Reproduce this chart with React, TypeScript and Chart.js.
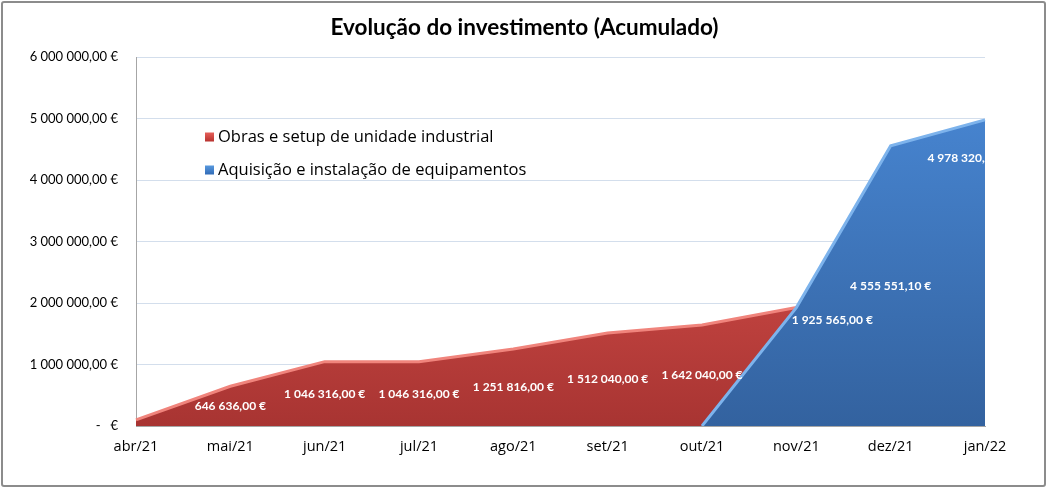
import React, { useEffect, useRef } from "react";
import { Chart, registerables } from "chart.js";

Chart.register(...registerables);

const months = ["abr/21", "mai/21", "jun/21", "jul/21", "ago/21", "set/21", "out/21", "nov/21", "dez/21", "jan/22"];

const obras = [100000, 646636, 1046316, 1046316, 1251816, 1512040, 1642040, 1925565, null, null];

const equipamentos = [null, null, null, null, null, null, 0, 1925565, 4555551.1, 4978320];

const obrasLabelIdx = [1, 2, 3, 4, 5, 6];
const equipLabelIdx = [7, 8, 9];

const seriesNames = ["Obras e setup de unidade industrial", "Aquisição e instalação de equipamentos"];

const FONT = "Lato, 'Open Sans', sans-serif";
const FONT2 = "'Open Sans', sans-serif";

const euro = (v: number) => {
  if (v === 0) return "-   €";
  const [int, dec] = v.toFixed(2).split(".");
  return int.replace(/\B(?=(\d{3})+(?!\d))/g, " ") + "," + dec + " €";
};

const grad = (chart: Chart, top: string, bottom: string) => {
  const area = chart.chartArea;
  if (!area) return top;
  const g = chart.ctx.createLinearGradient(0, area.top, 0, area.bottom);
  g.addColorStop(0, top);
  g.addColorStop(1, bottom);
  return g;
};

const labelsPlugin = {
  id: "areaLabels",
  afterDatasetsDraw(chart: Chart) {
    const { ctx, chartArea } = chart;
    const base = chart.scales.y.getPixelForValue(0);
    ctx.save();
    ctx.beginPath();
    ctx.rect(chartArea.left, chartArea.top - 20, chartArea.right - chartArea.left, chartArea.bottom - chartArea.top + 20);
    ctx.clip();
    ctx.font = "bold 12px " + FONT;
    ctx.fillStyle = "#ffffff";
    ctx.textAlign = "center";
    ctx.textBaseline = "middle";
    const draw = (dsIndex: number, idx: number[], shift: Record<number, [number, number]>) => {
      const meta = chart.getDatasetMeta(dsIndex);
      const data = chart.data.datasets[dsIndex].data as (number | null)[];
      idx.forEach((i) => {
        const pt = meta.data[i];
        const v = data[i];
        if (!pt || v == null) return;
        let x = pt.x;
        let y = (pt.y + base) / 2;
        if (shift[i]) {
          x = pt.x + shift[i][0];
          y = pt.y + shift[i][1];
        }
        ctx.fillText(euro(v), x, y);
      });
    };
    draw(1, obrasLabelIdx, {});
    draw(0, equipLabelIdx, { 7: [36, 13], 9: [-17, 38] });
    ctx.restore();
  },
  afterDraw(chart: Chart) {
    const { ctx } = chart;
    const colors = [
      ["#e8625c", "#b52f2c"],
      ["#5a9be0", "#2f69b5"],
    ];
    ctx.save();
    ctx.font = "16.5px " + FONT2;
    ctx.textBaseline = "middle";
    seriesNames.forEach((name, i) => {
      const y = 137 + i * 33;
      const g = ctx.createLinearGradient(0, y - 5, 0, y + 5);
      g.addColorStop(0, colors[i][0]);
      g.addColorStop(1, colors[i][1]);
      ctx.fillStyle = g;
      ctx.fillRect(205, y - 4.5, 9, 9);
      ctx.fillStyle = "#000";
      ctx.fillText(name, 218, y);
    });
    ctx.restore();
  },
};

const App = () => {
  const canvasRef = useRef<HTMLCanvasElement>(null);
  const chartRef = useRef<Chart | null>(null);

  useEffect(() => {
    document.body.style.margin = "0";
    if (!canvasRef.current) return;
    chartRef.current?.destroy();

    chartRef.current = new Chart(canvasRef.current, {
      type: "line",
      data: {
        labels: months,
        datasets: [
          {
            label: seriesNames[1],
            data: equipamentos,
            fill: "origin",
            borderColor: "#7db3ec",
            borderWidth: 3,
            backgroundColor: (c: any) => grad(c.chart, "#4a8ad8", "#33629f"),
            pointRadius: 0,
            tension: 0,
          },
          {
            label: seriesNames[0],
            data: obras,
            fill: "origin",
            borderColor: "#f0847c",
            borderWidth: 3,
            backgroundColor: (c: any) => grad(c.chart, "#ee5e58", "#a83432"),
            pointRadius: 0,
            tension: 0,
          },
        ],
      },
      options: {
        animation: false,
        responsive: false,
        layout: { padding: { top: 57, right: 64, left: 0, bottom: 0 } },
        plugins: {
          legend: { display: false },
          tooltip: { enabled: false },
          title: { display: false },
        },
        scales: {
          x: {
            offset: false,
            grid: { display: false, drawTicks: false },
            border: { color: "#a6a6a6", width: 1 },
            ticks: { color: "#000", font: { family: FONT2, size: 14.5 }, padding: 12, maxRotation: 0, autoSkip: false },
            afterFit: (s: any) => {
              s.height = 64;
            },
          },
          y: {
            min: 0,
            max: 6000000,
            grid: { color: "#d3deec", drawTicks: false },
            border: { color: "#a6a6a6", width: 1 },
            ticks: {
              stepSize: 1000000,
              color: "#000",
              font: { family: FONT, size: 13 },
              padding: 18,
              callback: (v: any) => euro(Number(v)),
            },
            afterFit: (s: any) => {
              s.width = 136;
            },
          },
        },
      },
      plugins: [labelsPlugin],
    });

    return () => {
      chartRef.current?.destroy();
    };
  }, []);

  return (
    <div style={{ position: "relative", width: 1049, height: 490, background: "#fff" }}>
      <div
        style={{
          position: "absolute",
          left: 1,
          top: 1,
          width: 1045,
          height: 486,
          border: "2px solid #8c8c8c",
          borderRadius: 3,
          boxSizing: "border-box",
          pointerEvents: "none",
        }}
      />
      <div
        style={{
          position: "absolute",
          top: 13,
          left: 0,
          width: 1049,
          textAlign: "center",
          fontFamily: FONT,
          fontWeight: "bold",
          fontSize: 22.5,
          color: "#000",
        }}
      >
        Evolução do investimento (Acumulado)
      </div>
      <canvas ref={canvasRef} width={1049} height={490} />
    </div>
  );
};

export default App;
